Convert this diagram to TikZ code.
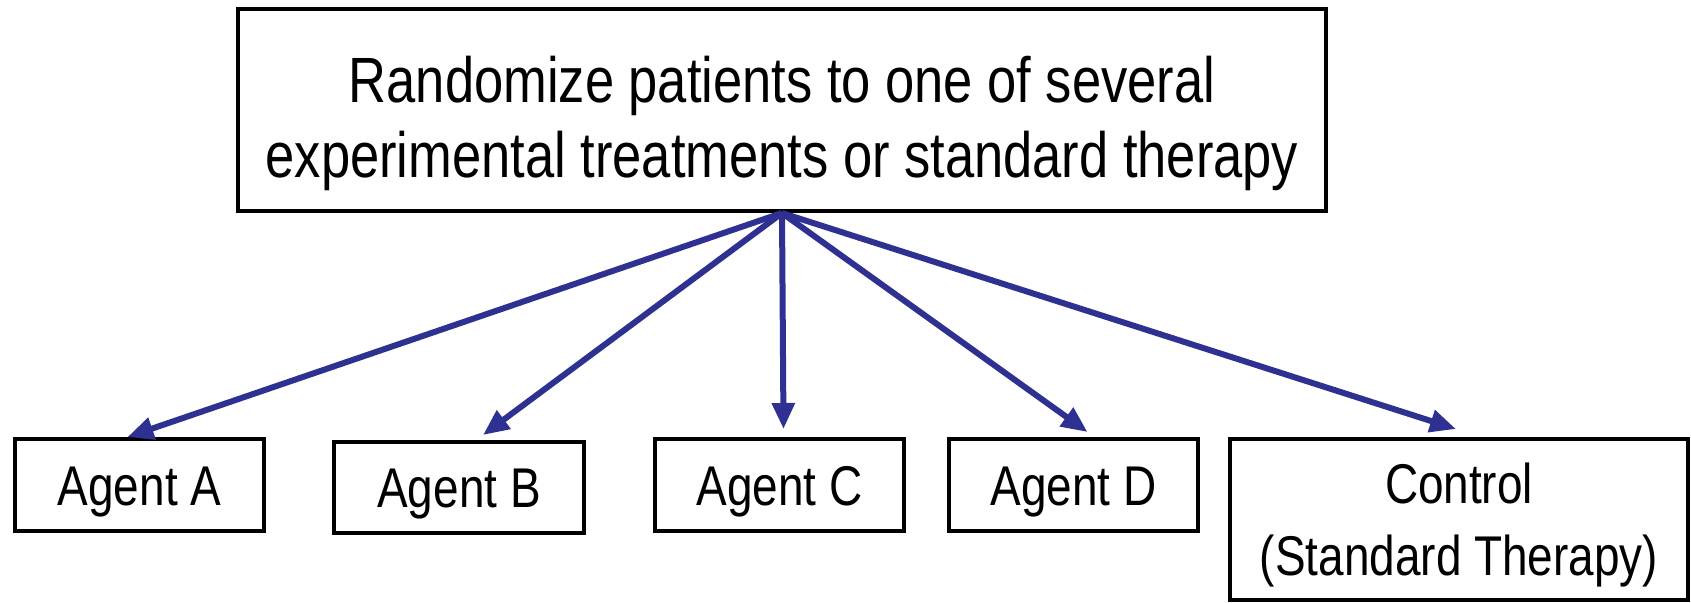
\documentclass[tikz,border=0pt]{standalone}
\usepackage{fontspec}
\setmainfont{Liberation Sans}[FakeStretch=0.82]
\usetikzlibrary{arrows.meta,calc}
\definecolor{arrowblue}{RGB}{46,49,146}

\begin{document}
\begin{tikzpicture}[
  x=0.5pt, y=-0.5pt,
  font=\fontsize{28}{36}\selectfont,
  >={Triangle[length=13pt,width=11pt]},
  stepbox/.style={rectangle, draw=black, line width=2pt, align=center,
                  inner sep=0pt},
  armbox/.style={stepbox, minimum width=124.5pt, minimum height=46pt,
                 text height=22pt, text depth=2pt},
  branch/.style={->, draw=arrowblue, line width=3pt},
]
\useasboundingbox (0,0) rectangle (1691,602);

% ===== randomization box =====
\node (rand) [stepbox, minimum width=544pt, minimum height=101pt] at (782,110) {};
\node (randtxt) [align=center, font=\fontsize{32}{37.5}\selectfont] at (782,123)
  {Randomize patients to one of several\\experimental treatments or standard therapy};

% ===== treatment arms =====
\node (agA) [armbox] at (139.5,485) {Agent A};
\node (agB) [armbox, minimum width=125pt, minimum height=45.5pt] at (459,487.5) {Agent B};
\node (agC) [armbox] at (779.5,485) {Agent C};
\node (agD) [armbox] at (1073.5,485) {Agent D};
\node (ctrl) [stepbox, minimum width=229pt, minimum height=80.5pt, text depth=0pt]
  at (1459,519.5) {Control\\(Standard Therapy)};

% arrows from the randomization point
\foreach \arm/\dx/\gap in {agA/-12/0, agB/24/5, agC/4/8, agD/14/5, ctrl/-3/8}{
  \draw[branch] (rand.south) -- ($(\arm.north)+(\dx,-\gap)$);
}
\end{tikzpicture}
\end{document}
